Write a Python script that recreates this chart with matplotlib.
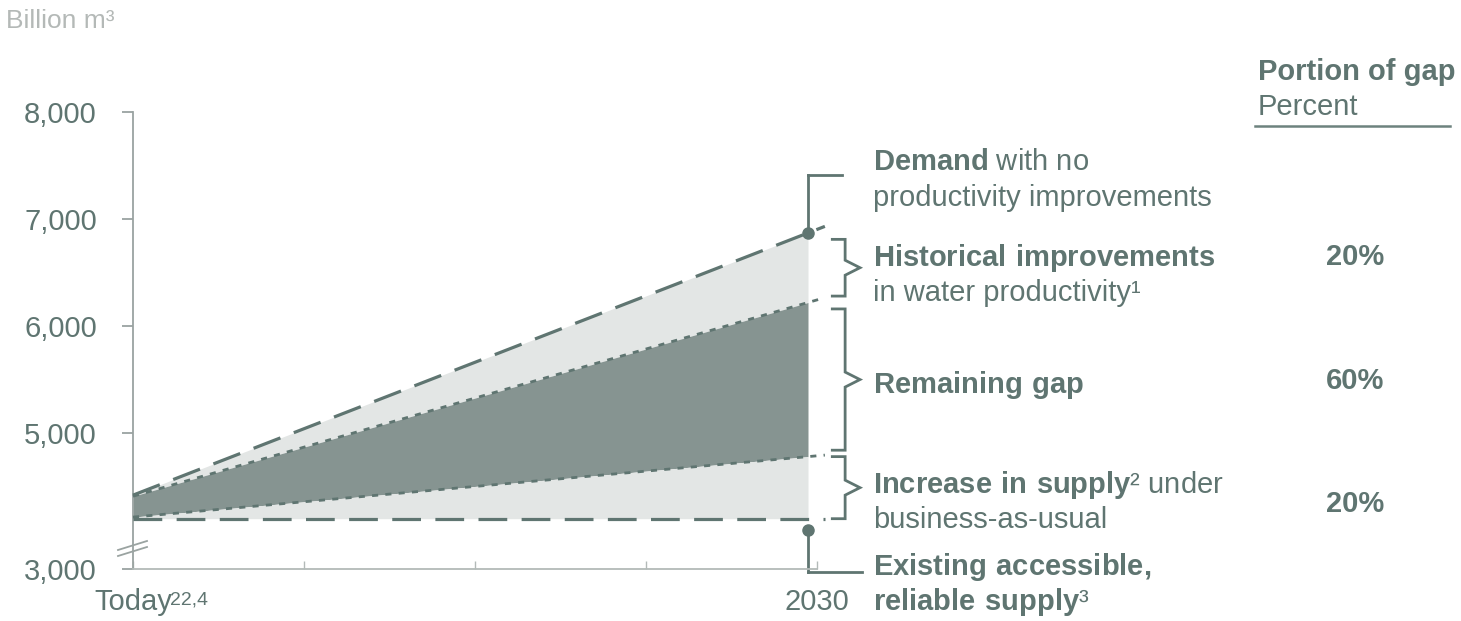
import numpy as np
import matplotlib.pyplot as plt
from matplotlib.lines import Line2D

plt.rcParams['font.family'] = ['Liberation Sans', 'DejaVu Sans']
plt.rcParams['mathtext.fontset'] = 'custom'
plt.rcParams['mathtext.rm'] = 'Liberation Sans'
plt.rcParams['mathtext.bf'] = 'Liberation Sans:bold'

# water demand vs supply, billion m3
periods = ['Today', '2030']
x_pos = [0, 1]
demand = [4420, 6870]
historical = [4410, 6220]
supply_increase = [4215, 4780]
existing = [4200, 4200]
gap_share = ['20%', '60%', '20%']

y_ticks = [5000, 6000, 7000, 8000]
y_floor = 3730          # broken axis: bottom of the axis is labelled 3,000
floor_label = '3,000'

W, H = 1461, 621
ink = '#5f7571'
light = '#e3e6e5'
dark = '#869491'
axis_grey = '#9aa3a1'
fs = 21

fig = plt.figure(figsize=(W / 100, H / 100), dpi=100)
ax = fig.add_axes([133 / W, 1 - 569 / H, (817 - 133) / W, (569 - 112) / H])

x_max = 684 / 675
ax.set_xlim(0, x_max)
ax.set_ylim(y_floor, 8000)

x = np.array(x_pos, dtype=float)
ax.fill_between(x, historical, demand, color=light, lw=0)
ax.fill_between(x, supply_increase, historical, color=dark, lw=0)
ax.fill_between(x, existing, supply_increase, color=light, lw=0)


def extend(vals, to=1.025):
    # carry the line a little beyond the 2030 point
    v0, v1 = vals
    return [v0, v1 + (v1 - v0) * (to - 1)], [0, to]


long_dash = (9, 4.5)
short_dash = (2.2, 2.6)
for vals, dash, lw in [(demand, long_dash, 2.3), (existing, long_dash, 2.3),
                       (historical, short_dash, 2.0), (supply_increase, short_dash, 2.0)]:
    yy, xx = extend(vals)
    ax.plot(xx, yy, color=ink, lw=lw, dashes=dash, clip_on=False, zorder=3)

# axes styling
for s in ['top', 'right']:
    ax.spines[s].set_visible(False)
ax.spines['left'].set_color(axis_grey)
ax.spines['left'].set_linewidth(1.3)
ax.spines['bottom'].set_color('#b3bab8')
ax.spines['bottom'].set_linewidth(1.3)

ax.set_yticks([y_floor] + y_ticks)
ax.set_yticklabels([floor_label] + [f'{v:,}' for v in y_ticks])
ax.tick_params(axis='y', direction='out', length=8, width=1.3, color=axis_grey,
               labelcolor=ink, labelsize=fs, pad=18)

ax.set_xticks(np.linspace(0, x_max, 5))
ax.set_xticklabels([periods[0], '', '', '', periods[1]])
ax.tick_params(axis='x', direction='in', length=6, width=1, color='#b3bab8',
               labelcolor=ink, labelsize=fs, pad=14)
fig.text(170 / W, 1 - 600 / H, '22,4', fontsize=14, color=ink, va='center')

# axis break
for dy in (0, 6):
    fig.add_artist(Line2D([118 / W, 147 / W], [1 - (550 + dy) / H, 1 - (541 + dy) / H],
                          color=axis_grey, lw=1.3))

# markers at 2030 with their leader lines
ax.plot([1, 1], [demand[1], 7410], color=ink, lw=2, clip_on=False)
ax.plot([1, 1.05], [7410, 7410], color=ink, lw=2, clip_on=False)
ax.plot([1], [demand[1]], 'o', color=ink, ms=8, clip_on=False, zorder=4)
ax.plot([1, 1], [4090, 3700], color=ink, lw=2, clip_on=False)
ax.plot([1, 1.08], [3700, 3700], color=ink, lw=2, clip_on=False)
ax.plot([1], [4090], 'o', color=ink, ms=8, clip_on=False, zorder=4)


def brace(lo, hi, inset=60, x0=1.036, x1=1.055, tip=1.077, notch=70):
    top, bot = hi - inset, lo + inset
    mid = (top + bot) / 2
    xs = [x0, x1, x1, tip, x1, x1, x0]
    ys = [top, top, mid + notch, mid, mid - notch, bot, bot]
    ax.plot(xs, ys, color=ink, lw=2, clip_on=False, solid_joinstyle='miter')


brace(historical[1], demand[1])
brace(supply_increase[1], historical[1])
brace(existing[1], supply_increase[1], inset=0)


def label(px, py, s, **kw):
    kw.setdefault('color', ink)
    kw.setdefault('fontsize', fs)
    fig.text(px / W, 1 - py / H, s, va='baseline', **kw)


tx = 873
label(tx, 170, r'$\mathbf{Demand}$ with no')
label(tx, 206, 'productivity improvements')
label(tx, 266, r'$\mathbf{Historical\ improvements}$')
label(tx, 301, 'in water productivity¹')
label(tx, 393, r'$\mathbf{Remaining\ gap}$')
label(tx, 493, r'$\mathbf{Increase\ in\ supply}$² under')
label(tx, 528, 'business-as-usual')
label(tx, 575, r'$\mathbf{Existing\ accessible,}$')
label(tx, 610, r'$\mathbf{reliable\ supply}$³')

label(1258, 80, 'Portion of gap', fontweight='bold')
label(1258, 115, 'Percent')
fig.add_artist(Line2D([1255 / W, 1450 / W], [1 - 126 / H, 1 - 126 / H], color='#6d827e', lw=1.8))
for share, py in zip(gap_share, [265, 389, 512]):
    label(1355, py, share, fontweight='bold', ha='center')

label(6, 28, 'Billion m³', color='#b4b9b7', fontsize=19)

fig.savefig('out.png', dpi=100)
